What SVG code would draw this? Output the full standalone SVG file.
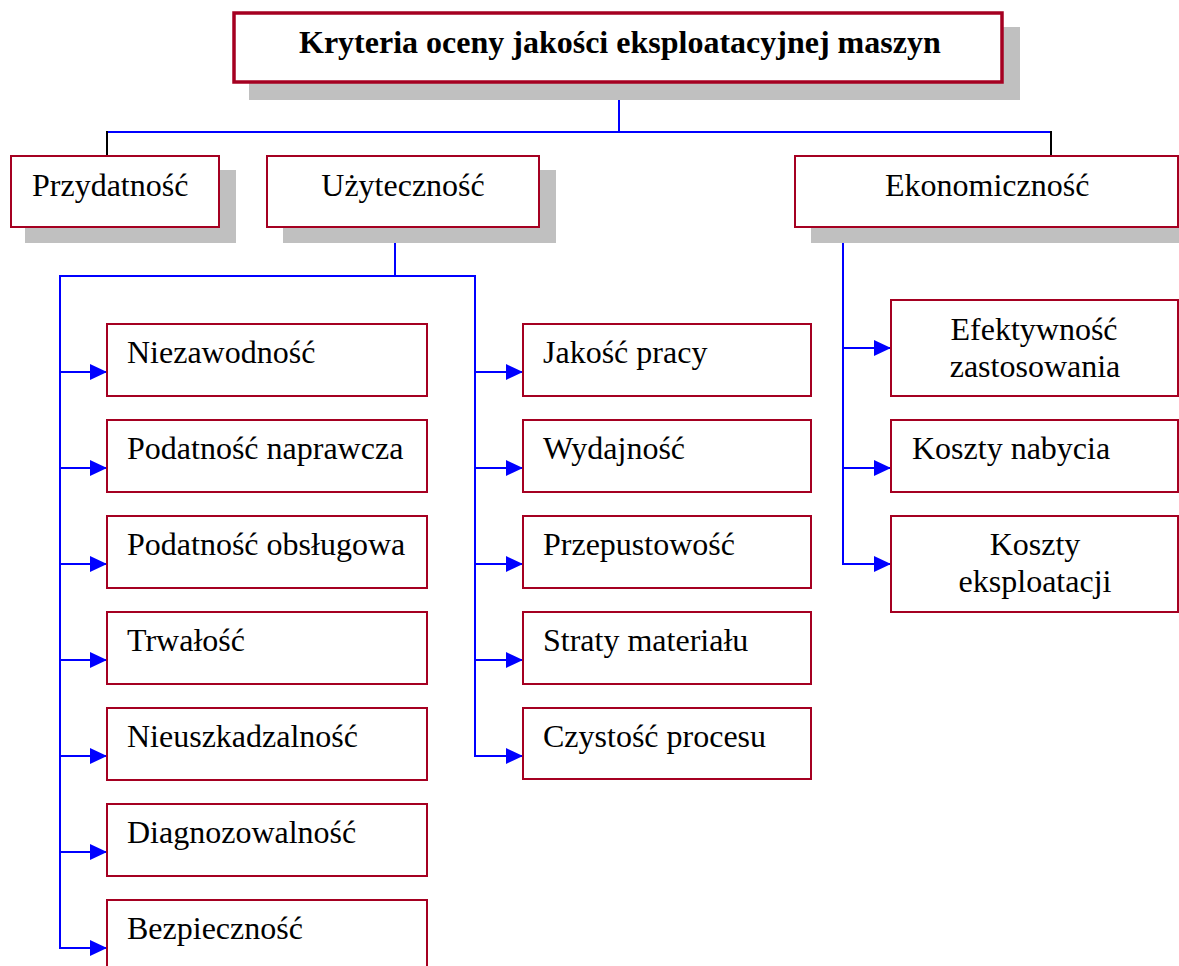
<svg xmlns="http://www.w3.org/2000/svg" width="1179" height="966" viewBox="0 0 1179 966">
  <style>
    .box { fill: #ffffff; stroke: #A50021; stroke-width: 2; }
    .main { stroke-width: 3.5; }
    .shadow { fill: #C0C0C0; stroke: none; }
    .t { font-family: "Liberation Serif", "Times New Roman", serif; font-size: 32px; fill: #000; }
    .c { text-anchor: middle; }
    .b { font-weight: bold; font-size: 32px; }
    .blue { stroke: #0000FF; stroke-width: 2; fill: none; }
    .black { stroke: #000000; stroke-width: 2; fill: none; }
  </style>
  <defs>
    <marker id="arr" markerUnits="userSpaceOnUse" markerWidth="17" markerHeight="16" refX="17" refY="8" orient="auto">
      <path d="M0,0 L17,8 L0,16 Z" fill="#0000FF"/>
    </marker>
  </defs>
  <rect width="1179" height="966" fill="#ffffff"/>

  <!-- connectors -->
  <g id="connectors">
    <path class="blue" d="M619,83 V132 M107,132 H1051"/>
    <path class="black" d="M107,131 V156 M1051,131 V156"/>
    <!-- Użyteczność branch -->
    <path class="blue" d="M395,227 V276 M60,276 H475 M60,275 V948 M475,275 V756"/>
    <path class="blue" marker-end="url(#arr)" d="M60,372 H107"/>
    <path class="blue" marker-end="url(#arr)" d="M60,468 H107"/>
    <path class="blue" marker-end="url(#arr)" d="M60,564 H107"/>
    <path class="blue" marker-end="url(#arr)" d="M60,660 H107"/>
    <path class="blue" marker-end="url(#arr)" d="M60,756 H107"/>
    <path class="blue" marker-end="url(#arr)" d="M60,852 H107"/>
    <path class="blue" marker-end="url(#arr)" d="M59,948 H107"/>
    <path class="blue" marker-end="url(#arr)" d="M475,372 H523"/>
    <path class="blue" marker-end="url(#arr)" d="M475,468 H523"/>
    <path class="blue" marker-end="url(#arr)" d="M475,564 H523"/>
    <path class="blue" marker-end="url(#arr)" d="M475,660 H523"/>
    <path class="blue" marker-end="url(#arr)" d="M474,756 H523"/>
    <!-- Ekonomiczność branch -->
    <path class="blue" d="M843,227 V564"/>
    <path class="blue" marker-end="url(#arr)" d="M843,348 H891"/>
    <path class="blue" marker-end="url(#arr)" d="M843,468 H891"/>
    <path class="blue" marker-end="url(#arr)" d="M842,564 H891"/>
  </g>

  <!-- top level -->
  <g id="n-root">
    <rect class="shadow" x="249" y="27" width="771" height="73"/>
    <rect class="box main" x="234" y="13" width="768" height="69"/>
    <text class="t b" x="299" y="53">Kryteria oceny jakości eksploatacyjnej maszyn</text>
  </g>

  <!-- second level -->
  <g id="n-przydatnosc">
    <rect class="shadow" x="25" y="170" width="211" height="73"/>
    <rect class="box" x="11" y="156" width="208" height="71"/>
    <text class="t" x="32" y="196">Przydatność</text>
  </g>
  <g id="n-uzytecznosc">
    <rect class="shadow" x="283" y="170" width="273" height="73"/>
    <rect class="box" x="267" y="156" width="272" height="71"/>
    <text class="t c" x="403" y="196">Użyteczność</text>
  </g>
  <g id="n-ekonomicznosc">
    <rect class="shadow" x="811" y="170" width="380" height="73"/>
    <rect class="box" x="795" y="156" width="383" height="71"/>
    <text class="t" x="885" y="196">Ekonomiczność</text>
  </g>

  <!-- Użyteczność: left column -->
  <g id="n-niezawodnosc">
    <rect class="box" x="107" y="324" width="320" height="72"/>
    <text class="t" x="127" y="363">Niezawodność</text>
  </g>
  <g id="n-podatnosc-naprawcza">
    <rect class="box" x="107" y="420" width="320" height="72"/>
    <text class="t" x="127" y="459">Podatność naprawcza</text>
  </g>
  <g id="n-podatnosc-obslugowa">
    <rect class="box" x="107" y="516" width="320" height="72"/>
    <text class="t" x="127" y="555">Podatność obsługowa</text>
  </g>
  <g id="n-trwalosc">
    <rect class="box" x="107" y="612" width="320" height="72"/>
    <text class="t" x="127" y="651">Trwałość</text>
  </g>
  <g id="n-nieuszkadzalnosc">
    <rect class="box" x="107" y="708" width="320" height="72"/>
    <text class="t" x="127" y="747">Nieuszkadzalność</text>
  </g>
  <g id="n-diagnozowalnosc">
    <rect class="box" x="107" y="804" width="320" height="72"/>
    <text class="t" x="127" y="843">Diagnozowalność</text>
  </g>
  <g id="n-bezpiecznosc">
    <rect class="box" x="107" y="900" width="320" height="80"/>
    <text class="t" x="127" y="939">Bezpieczność</text>
  </g>

  <!-- Użyteczność: right column -->
  <g id="n-jakosc-pracy">
    <rect class="box" x="523" y="324" width="288" height="72"/>
    <text class="t" x="543" y="363">Jakość pracy</text>
  </g>
  <g id="n-wydajnosc">
    <rect class="box" x="523" y="420" width="288" height="72"/>
    <text class="t" x="543" y="459">Wydajność</text>
  </g>
  <g id="n-przepustowosc">
    <rect class="box" x="523" y="516" width="288" height="72"/>
    <text class="t" x="543" y="555">Przepustowość</text>
  </g>
  <g id="n-straty-materialu">
    <rect class="box" x="523" y="612" width="288" height="72"/>
    <text class="t" x="543" y="651">Straty materiału</text>
  </g>
  <g id="n-czystosc-procesu">
    <rect class="box" x="523" y="708" width="288" height="71"/>
    <text class="t" x="543" y="747">Czystość procesu</text>
  </g>

  <!-- Ekonomiczność column -->
  <g id="n-efektywnosc">
    <rect class="box" x="891" y="300" width="287" height="96"/>
    <text class="t c" x="1034" y="340">Efektywność</text>
    <text class="t c" x="1035" y="377">zastosowania</text>
  </g>
  <g id="n-koszty-nabycia">
    <rect class="box" x="891" y="420" width="287" height="72"/>
    <text class="t" x="912" y="459">Koszty nabycia</text>
  </g>
  <g id="n-koszty-eksploatacji">
    <rect class="box" x="891" y="516" width="287" height="96"/>
    <text class="t c" x="1035" y="555">Koszty</text>
    <text class="t c" x="1035" y="592">eksploatacji</text>
  </g>
</svg>
